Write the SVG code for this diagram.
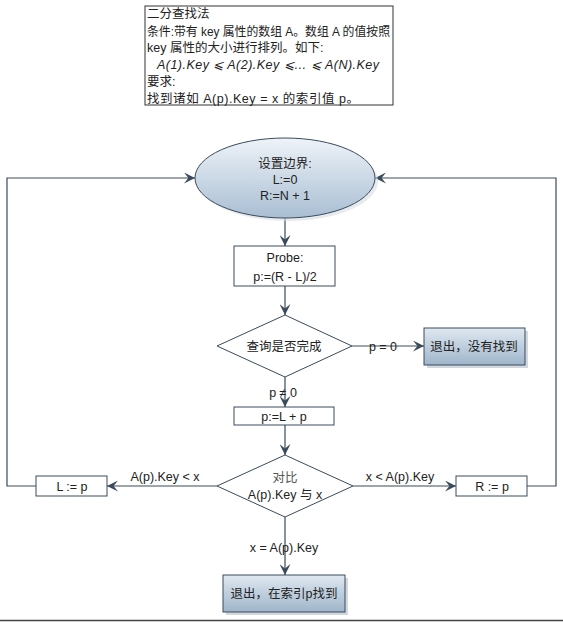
<svg xmlns="http://www.w3.org/2000/svg" width="563" height="622" viewBox="0 0 563 622">
<style>
text{font-family:"Liberation Sans","Noto Sans CJK SC",sans-serif;font-size:12.5px;fill:#222}
.c{text-anchor:middle}
.ln{fill:none;stroke:#3a4b5c;stroke-width:1.2}
.box{fill:#fff;stroke:#3a4b5c;stroke-width:1}
.it{font-style:italic}
</style>
<defs>
<linearGradient id="gE" x1="0" y1="0" x2="0" y2="1">
<stop offset="0" stop-color="#eef3f8"/><stop offset="1" stop-color="#a9bed3"/>
</linearGradient>
<linearGradient id="gB" x1="0" y1="0" x2="0" y2="1">
<stop offset="0" stop-color="#dfe8f1"/><stop offset="1" stop-color="#9fb5ca"/>
</linearGradient>
<marker id="ar" viewBox="0 0 10 10" refX="10" refY="5" markerWidth="11" markerHeight="11" markerUnits="userSpaceOnUse" orient="auto">
<path d="M0,0 L10,5 L0,10 L4,5 Z" fill="#3a4b5c"/>
</marker>
</defs>
<rect width="563" height="622" fill="#fff"/>

<g id="desc">
<rect x="145" y="6" width="248" height="99" fill="#fff" stroke="#333" stroke-width="1"/>
<text x="147" y="18">二分查找法</text>
<text x="147" y="36" textLength="243" lengthAdjust="spacingAndGlyphs">条件:带有 key 属性的数组 A。数组 A 的值按照</text>
<text x="147" y="52">key 属性的大小进行排列。如下:</text>
<text x="157" y="69" class="it" textLength="222">A(1).Key ⩽ A(2).Key ⩽… ⩽ A(N).Key</text>
<text x="147" y="86">要求:</text>
<text x="147" y="103" textLength="212">找到诸如 A(p).Key = x 的索引值 p。</text>
</g>

<g id="connectors">
<line class="ln" x1="285" y1="218" x2="285" y2="246" marker-end="url(#ar)"/>
<line class="ln" x1="285" y1="286" x2="285" y2="315" marker-end="url(#ar)"/>
<line class="ln" x1="352" y1="346" x2="424" y2="346" marker-end="url(#ar)"/>
<line class="ln" x1="285" y1="377" x2="285" y2="407" marker-end="url(#ar)"/>
<line class="ln" x1="285" y1="425" x2="285" y2="455" marker-end="url(#ar)"/>
<line class="ln" x1="217" y1="486" x2="107" y2="486" marker-end="url(#ar)"/>
<line class="ln" x1="353" y1="486" x2="456" y2="486" marker-end="url(#ar)"/>
<line class="ln" x1="285" y1="517" x2="285" y2="575" marker-end="url(#ar)"/>
<polyline class="ln" points="36,486 7,486 7,178 195,178" marker-end="url(#ar)"/>
<polyline class="ln" points="527,486 556,486 556,178 375,178" marker-end="url(#ar)"/>
<text x="383" y="351" class="c">p = 0</text>
<text x="283" y="397" class="c">p ≠ 0</text>
<text x="165" y="481" class="c">A(p).Key &lt; x</text>
<text x="400" y="481" class="c">x &lt; A(p).Key</text>
<text x="284" y="552" class="c">x = A(p).Key</text>
</g>

<g id="start">
<ellipse cx="288" cy="181" rx="90" ry="40" fill="#d8dde3" opacity="0.6"/>
<ellipse cx="285" cy="178" rx="90" ry="40" fill="url(#gE)" stroke="#3a4b5c" stroke-width="1"/>
<text x="285" y="168" class="c">设置边界:</text>
<text x="285" y="184" class="c">L:=0</text>
<text x="285" y="200" class="c">R:=N + 1</text>
</g>

<g id="probe">
<rect class="box" x="234" y="246" width="101" height="40"/>
<text x="285" y="262" class="c">Probe:</text>
<text x="285" y="281" class="c">p:=(R - L)/2</text>
</g>

<g id="check">
<polygon points="285,315 352,346 285,377 217,346" class="box"/>
<text x="284" y="351" class="c">查询是否完成</text>
</g>

<g id="notfound">
<rect x="427" y="331" width="101" height="37" fill="#d3d8de"/>
<rect x="424" y="328" width="101" height="37" fill="url(#gB)" stroke="#3a4b5c" stroke-width="1"/>
<text x="474" y="351" class="c">退出，没有找到</text>
</g>

<g id="mid">
<rect class="box" x="234" y="407" width="100" height="18"/>
<text x="284" y="421" class="c">p:=L + p</text>
</g>

<g id="compare">
<polygon points="285,455 353,486 285,517 217,486" class="box"/>
<text x="285" y="482" class="c" style="fill:#555">对比</text>
<text x="285" y="499" class="c">A(p).Key 与  x</text>
</g>

<g id="setL">
<rect class="box" x="36" y="476" width="71" height="20"/>
<text x="72" y="491" class="c">L := p</text>
</g>

<g id="setR">
<rect class="box" x="456" y="476" width="71" height="20"/>
<text x="492" y="491" class="c">R := p</text>
</g>

<g id="found">
<rect x="226" y="578" width="122" height="37" fill="#d3d8de"/>
<rect x="223" y="575" width="122" height="37" fill="url(#gB)" stroke="#3a4b5c" stroke-width="1"/>
<text x="284" y="598" class="c">退出，在索引p找到</text>
</g>

<line x1="0" y1="620.5" x2="563" y2="620.5" stroke="#444" stroke-width="1.5"/>
</svg>
